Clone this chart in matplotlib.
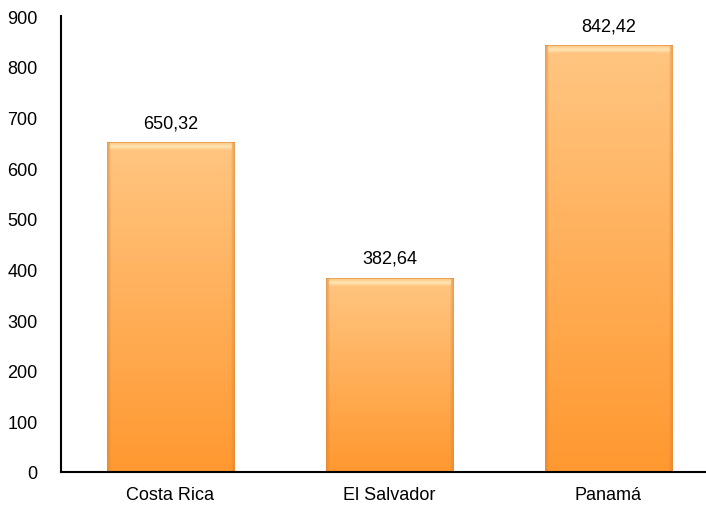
import numpy as np
import matplotlib.pyplot as plt

plt.rcParams['font.family'] = ['Liberation Sans', 'DejaVu Sans']

paises = ["Costa Rica", "El Salvador", "Panamá"]
valores = [650.32, 382.64, 842.42]
etiquetas = ["650,32", "382,64", "842,42"]

fig = plt.figure(figsize=(7.06, 5.06), dpi=100)
ax = fig.add_axes([61/706, 33/506, 657/706, 456/506])

x = np.arange(len(paises))
bars = ax.bar(x, valores, width=0.58, color="none", edgecolor="none", zorder=3)

ax.set_xlim(-0.5, 2.5)
ax.set_ylim(0, 900)

# colores del degradado (abajo -> arriba)
abajo = np.array([255, 152, 48]) / 255
arriba = np.array([255, 198, 130]) / 255
brillo = np.array([255, 236, 190]) / 255
borde = np.array([215, 130, 50]) / 255

for b in bars:
    x0, w, h = b.get_x(), b.get_width(), b.get_height()
    (px0, py0), (px1, py1) = ax.transData.transform([(x0, 0), (x0 + w, h)])
    nw, nh = int(round(px1 - px0)), int(round(py1 - py0))
    t = np.linspace(0, 1, nh)[:, None, None]
    img = (abajo + (arriba - abajo) * t) * np.ones((1, nw, 1))
    # bisel: lados oscuros, parte superior clara
    dx = np.minimum(np.arange(nw), np.arange(nw)[::-1])[None, :, None]
    lado = np.clip(1 - dx / 4.0, 0, 1) * 0.55
    img = img * (1 - lado) + borde * lado
    dy = (nh - 1 - np.arange(nh))[:, None, None]
    sup = np.clip(1 - np.abs(dy - 4) / 4.0, 0, 1) * 0.8
    sup = sup * (dx >= 3)
    img = img * (1 - sup) + brillo * sup
    linea = (dy == 0) * 0.5
    img = img * (1 - linea) + borde * linea
    ax.imshow(img, origin="lower", aspect="auto", interpolation="nearest",
              extent=[x0, x0 + w, 0, h], zorder=2)

for xi, v, t in zip(x, valores, etiquetas):
    ax.text(xi, v + 22, t, ha="center", va="bottom", fontsize=13)

ax.set_xlim(-0.5, 2.5)
ax.set_ylim(0, 900)
ax.set_yticks(range(0, 1000, 100))
ax.set_xticks(x)
ax.set_xticklabels(paises)
ax.tick_params(length=0, labelsize=13)
ax.tick_params(axis="x", pad=10)
ax.tick_params(axis="y", pad=17)
ax.spines["top"].set_visible(False)
ax.spines["right"].set_visible(False)
ax.spines["left"].set_linewidth(1.5)
ax.spines["bottom"].set_linewidth(1.5)

fig.savefig("out.png", dpi=100)
